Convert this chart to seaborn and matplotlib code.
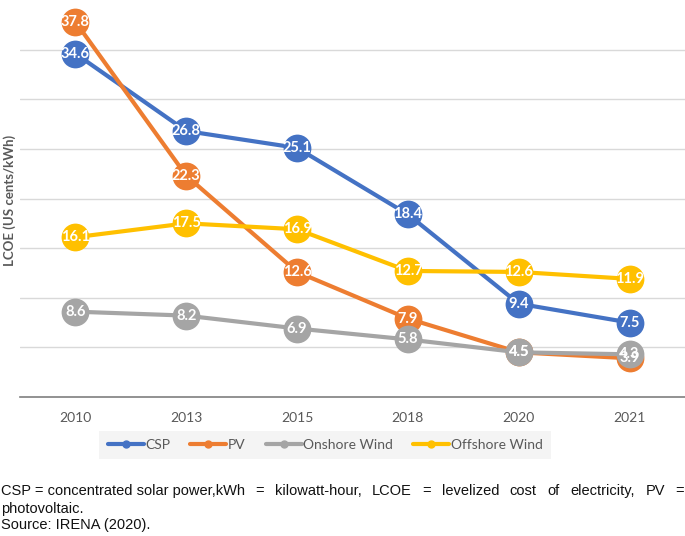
import numpy as np
import pandas as pd
import seaborn as sns
import matplotlib.pyplot as plt
from matplotlib.lines import Line2D

years = ['2010', '2013', '2015', '2018', '2020', '2021']
series_names = ['CSP', 'PV', 'Onshore Wind', 'Offshore Wind']
csp = [34.6, 26.8, 25.1, 18.4, 9.4, 7.5]
pv = [37.8, 22.3, 12.6, 7.9, 4.5, 3.9]
onshore = [8.6, 8.2, 6.9, 5.8, 4.5, 4.3]
offshore = [16.1, 17.5, 16.9, 12.7, 12.6, 11.9]
colors = ['#4472C4', '#ED7D31', '#A5A5A5', '#FFC000']

footnote_1a = 'CSP = concentrated solar power,kWh'
footnote_1b = '= kilowatt-hour, LCOE = levelized cost of electricity, PV ='
footnote_2 = 'photovoltaic.'
footnote_3 = 'Source: IRENA (2020).'

sns.set_style('white')
plt.rcParams['font.family'] = ['Lato', 'DejaVu Sans']

df = pd.DataFrame({'pos': np.arange(len(years))})
for name, vals in zip(series_names, [csp, pv, onshore, offshore]):
    df[name] = vals
long = df.melt(id_vars='pos', var_name='series', value_name='lcoe')

fig = plt.figure(figsize=(6.85, 5.36), dpi=100)
ax = fig.add_axes([20 / 685, 139 / 536, 665 / 685, 397 / 536])

for i, name in enumerate(series_names):
    sub = long[long['series'] == name]
    sns.lineplot(data=sub, x='pos', y='lcoe', color=colors[i], linewidth=3,
                 marker='o', markersize=20, markeredgewidth=0, ax=ax,
                 zorder=2 + i)
    for x, y in zip(sub['pos'], sub['lcoe']):
        ax.text(x, y, f'{y:.1f}', color='white', fontsize=10.5, fontweight='bold',
                ha='center', va='center', zorder=10 + i)

ax.set_xlim(-0.5, len(years) - 0.5)
ax.set_ylim(0, 40)
ax.set_yticks(np.arange(5, 40, 5))
ax.set_yticklabels([])
ax.tick_params(axis='y', length=0)
ax.yaxis.grid(True, color='#D9D9D9', linewidth=1)
ax.set_axisbelow(True)
ax.set_xticks(np.arange(len(years)))
ax.set_xticklabels(years, color='#595959', fontsize=10)
ax.tick_params(axis='x', length=0, pad=11)
ax.set_xlabel('')
ax.set_ylabel('')
for s in ['top', 'right', 'left']:
    ax.spines[s].set_visible(False)
ax.spines['bottom'].set_color('#7F7F7F')
ax.spines['bottom'].set_linewidth(1.2)
if ax.get_legend():
    ax.get_legend().remove()

fig.text(10 / 685, 1 - 200 / 536, 'LCOE (US cents/kWh)', rotation=90, color='#595959',
         fontsize=9.5, fontweight='bold', ha='center', va='center')

handles = [Line2D([0], [0], color=c, linewidth=3, marker='o', markersize=5)
           for c in colors]
leg = fig.legend(handles, series_names, loc='center', bbox_to_anchor=(325 / 685, 1 - 445 / 536),
                 ncol=4, frameon=True, fontsize=10, handlelength=2.6, handletextpad=0.1,
                 columnspacing=1.45, borderpad=0.6, borderaxespad=0)
leg.get_frame().set_facecolor('#F2F2F2')
leg.get_frame().set_edgecolor('none')
leg.get_frame().set_boxstyle('square', pad=0)
for t in leg.get_texts():
    t.set_color('#595959')

# justified first line of the footnote (the first chunk keeps normal spacing)
fig.canvas.draw()
renderer = fig.canvas.get_renderer()
foot_font = dict(family='Liberation Sans', fontsize=10.5, color='#111111')
words = [footnote_1a] + footnote_1b.split(' ')
word_texts = [fig.text(0, 1 - 491 / 536, w, va='center', ha='left', **foot_font) for w in words]
widths = [t.get_window_extent(renderer).width for t in word_texts]
total_w = 683
gap = (total_w - sum(widths)) / (len(words) - 1)
x = 1
for t, w in zip(word_texts, widths):
    t.set_x(x / 685)
    x += w + gap
fig.text(1 / 685, 1 - 509 / 536, footnote_2, va='center', ha='left', **foot_font)
fig.text(1 / 685, 1 - 525 / 536, footnote_3, va='center', ha='left', **foot_font)

fig.savefig('out.png', dpi=100)
